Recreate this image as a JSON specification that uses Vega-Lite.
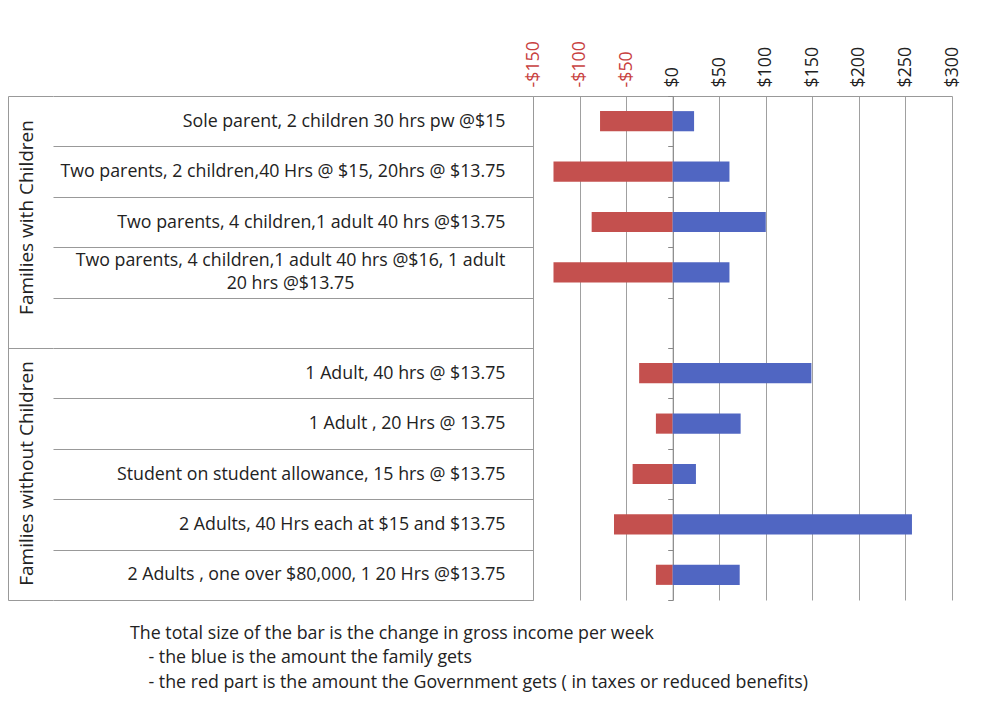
{
  "$schema": "https://vega.github.io/schema/vega-lite/v6.json",
  "autosize": "none",
  "width": 419,
  "height": 504,
  "padding": {"left": 533, "top": 96, "right": 48, "bottom": 105},
  "background": "white",
  "config": {
    "view": {"stroke": null},
    "axis": {"grid": false},
    "font": "Open Sans"
  },
  "title": {
    "text": "The total size of the bar is the change in gross income per week",
    "subtitle": ["\u200b\u00a0\u00a0\u00a0\u00a0- the blue is the amount  the family gets", "\u200b\u00a0\u00a0\u00a0\u00a0- the red part is the amount the  Government gets ( in taxes or reduced benefits)"],
    "orient": "bottom",
    "anchor": "start",
    "frame": "group",
    "dx": -403,
    "offset": 24,
    "font": "Open Sans",
    "fontSize": 17.8,
    "fontWeight": "normal",
    "color": "#222",
    "subtitleFont": "Open Sans",
    "subtitleFontSize": 17.8,
    "subtitleColor": "#222",
    "subtitlePadding": 7,
    "subtitleLineHeight": 25
  },
  "data": {
    "values": [
      {"group": "Families with Children", "label": "Sole parent, 2 children 30 hrs pw @$15", "gov": -78, "family": 23},
      {"group": "Families with Children", "label": "Two parents, 2 children,40 Hrs @ $15, 20hrs @ $13.75", "gov": -128, "family": 61},
      {"group": "Families with Children", "label": "Two parents, 4 children,1 adult 40 hrs @$13.75", "gov": -87, "family": 100},
      {"group": "Families with Children", "label": "Two parents, 4 children,1 adult 40 hrs @$16, 1 adult|20 hrs @$13.75", "gov": -128, "family": 61},
      {"group": "Families without Children", "label": "1 Adult, 40 hrs @ $13.75", "gov": -36, "family": 149},
      {"group": "Families without Children", "label": "1 Adult , 20 Hrs @ 13.75", "gov": -18, "family": 73},
      {"group": "Families without Children", "label": "Student on student allowance, 15 hrs @ $13.75", "gov": -43, "family": 25},
      {"group": "Families without Children", "label": "2 Adults, 40 Hrs each at $15 and $13.75", "gov": -63, "family": 257},
      {"group": "Families without Children", "label": "2 Adults , one over $80,000, 1 20 Hrs @$13.75", "gov": -18, "family": 72}
    ]
  },
  "layer": [
    {
      "transform": [{"fold": ["gov", "family"], "as": ["part", "amount"]}],
      "mark": {"type": "bar", "height": {"band": 0.4}},
      "encoding": {
        "y": {
          "field": "label",
          "type": "nominal",
          "scale": {
            "domain": [
              "Sole parent, 2 children 30 hrs pw @$15",
              "Two parents, 2 children,40 Hrs @ $15, 20hrs @ $13.75",
              "Two parents, 4 children,1 adult 40 hrs @$13.75",
              "Two parents, 4 children,1 adult 40 hrs @$16, 1 adult|20 hrs @$13.75",
              " ",
              "1 Adult, 40 hrs @ $13.75",
              "1 Adult , 20 Hrs @ 13.75",
              "Student on student allowance, 15 hrs @ $13.75",
              "2 Adults, 40 Hrs each at $15 and $13.75",
              "2 Adults , one over $80,000, 1 20 Hrs @$13.75"
            ],
            "paddingInner": 0,
            "paddingOuter": 0
          },
          "axis": {
            "title": null,
            "orient": "left",
            "domain": true,
            "domainColor": "#999",
            "ticks": true,
            "tickBand": "extent",
            "tickSize": 480,
            "tickColor": "#999",
            "labelPadding": {"condition": {"test": "indexof(datum.label, '|') >= 0", "value": -237}, "value": -452},
            "labelAlign": {"condition": {"test": "indexof(datum.label, '|') >= 0", "value": "center"}, "value": "right"},
            "labelOffset": {"condition": {"test": "indexof(datum.label, '|') >= 0", "value": -11.5}, "value": 0},
            "labelFont": "Open Sans",
            "labelFontSize": 17.8,
            "labelColor": "#222",
            "labelLimit": 0,
            "labelBaseline": "middle",
            "labelLineHeight": 23,
            "labelExpr": "split(datum.label, '|')"
          }
        },
        "x": {
          "field": "amount",
          "type": "quantitative",
          "scale": {"domain": [-150, 300], "nice": false},
          "axis": {
            "title": null,
            "orient": "top",
            "values": [-150, -100, -50, 0, 50, 100, 150, 200, 250, 300],
            "grid": true,
            "gridColor": "#a0a0a0",
            "domain": true,
            "domainColor": "#999",
            "ticks": false,
            "labelAngle": -90,
            "labelAlign": "left",
            "labelBaseline": "middle",
            "labelPadding": 9,
            "labelFont": "Open Sans",
            "labelFontSize": 17.8,
            "labelExpr": "datum.value < 0 ? '-$' + abs(datum.value) : '$' + datum.value",
            "labelColor": {"condition": {"test": "datum.value < 0", "value": "#c8413f"}, "value": "#222"}
          }
        },
        "color": {
          "field": "part",
          "type": "nominal",
          "scale": {"domain": ["gov", "family"], "range": ["#c4504e", "#5066c2"]},
          "legend": null
        }
      }
    },
    {
      "data": {"values": [{"group": "Families with Children"}, {"group": "Families without Children"}]},
      "mark": {"type": "text"},
      "encoding": {
        "y": {
          "field": "group",
          "type": "nominal",
          "scale": {"type": "band", "paddingInner": 0, "paddingOuter": 0},
          "axis": {
            "title": null,
            "orient": "left",
            "offset": 480,
            "domain": false,
            "ticks": true,
            "tickBand": "extent",
            "tickSize": 45,
            "tickColor": "#999",
            "labelAngle": -90,
            "labelAlign": "center",
            "labelBaseline": "bottom",
            "labelPadding": -28,
            "labelOffset": {"condition": {"test": "datum.label == 'Families with Children'", "value": -5}, "value": -1},
            "labelFont": "Open Sans",
            "labelFontSize": 19,
            "labelColor": "#222",
            "labelLimit": 0
          }
        },
        "text": {"value": ""}
      }
    },
    {
      "data": {"values": [{"label": " "}]},
      "mark": {"type": "text"},
      "encoding": {
        "y": {
          "field": "label",
          "type": "nominal",
          "scale": {
            "type": "band",
            "domain": ["r1", "r2", "r3", "r4", "r5", "r6", "r7", "r8", "r9", "r10"],
            "paddingInner": 0,
            "paddingOuter": 0
          },
          "axis": {
            "title": null,
            "orient": "left",
            "offset": -139.7,
            "domain": true,
            "domainColor": "#888",
            "ticks": true,
            "tickBand": "extent",
            "tickSize": 5,
            "tickColor": "#888",
            "labels": false
          }
        },
        "text": {"value": ""}
      }
    },
    {
      "data": {"values": [{"edge": "left"}]},
      "mark": {"type": "text"},
      "encoding": {
        "y": {
          "field": "edge",
          "type": "nominal",
          "scale": {"type": "band", "paddingInner": 0, "paddingOuter": 0},
          "axis": {
            "title": null,
            "orient": "left",
            "offset": 525,
            "domain": true,
            "domainColor": "#999",
            "ticks": false,
            "labels": false
          }
        },
        "text": {"value": ""}
      }
    }
  ],
  "resolve": {"scale": {"y": "independent"}, "axis": {"y": "independent"}}
}
